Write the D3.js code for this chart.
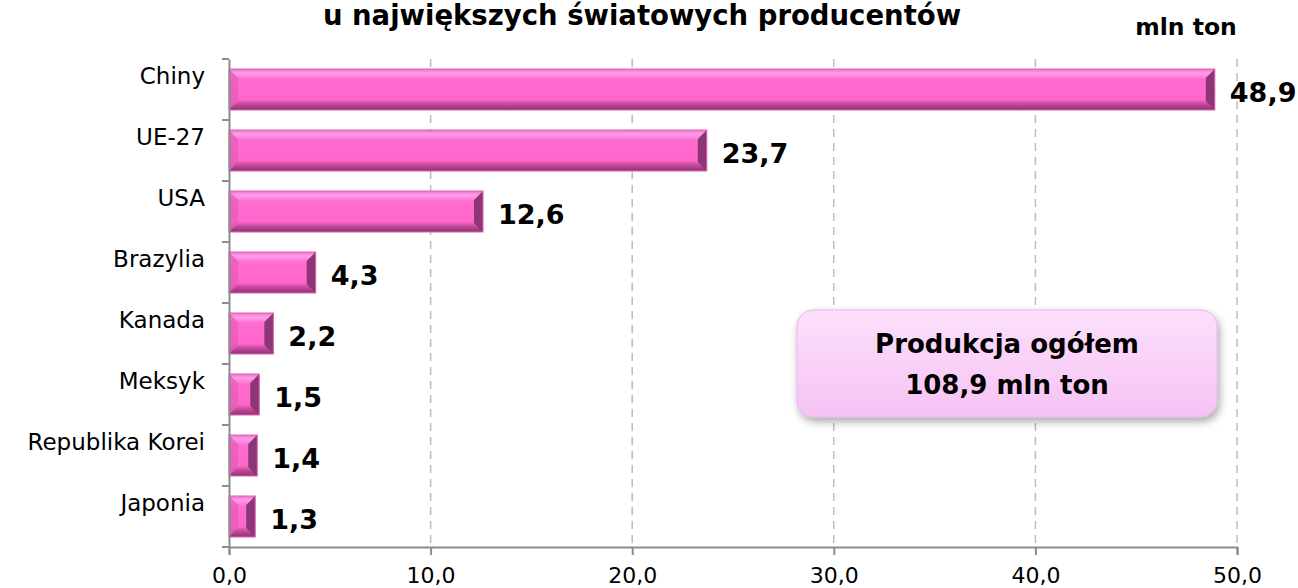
<!DOCTYPE html>
<html>
<head>
<meta charset="utf-8">
<script src="https://cdn.jsdelivr.net/npm/d3@7"></script>
<style>
  body { margin: 0; background: #fff; }
  svg { font-family: "DejaVu Sans", Verdana, sans-serif; }
</style>
</head>
<body>
<svg id="chart"></svg>
<script>
const categories = ["Chiny", "UE-27", "USA", "Brazylia", "Kanada", "Meksyk", "Republika Korei", "Japonia"];
const values = [48.9, 23.7, 12.6, 4.3, 2.2, 1.5, 1.4, 1.3];
const xTicks = [0, 10, 20, 30, 40, 50];
const titleText = "u największych światowych producentów";
const unitText = "mln ton";
const totalLines = ["Produkcja ogółem", "108,9 mln ton"];

const width = 1298;
const height = 588;
const fmt = (v) => v.toFixed(1).replace(".", ",");

const svg = d3.select("#chart").attr("width", width).attr("height", height);

const x = d3.scaleLinear().domain([0, 50]).range([229, 1237]);
const y = d3.scaleBand().domain(categories).range([59, 547]);
const barOffset = 10;
const barH = 41;
const bevel = 9;

const defs = svg.append("defs");
const grad = defs.append("linearGradient").attr("id", "barGrad")
  .attr("x1", 0).attr("y1", 0).attr("x2", 0).attr("y2", 1);
grad.append("stop").attr("offset", "0%").attr("stop-color", "#f070c8");
grad.append("stop").attr("offset", "10%").attr("stop-color", "#ffa0ec");
grad.append("stop").attr("offset", "25%").attr("stop-color", "#ff6cd0");
grad.append("stop").attr("offset", "75%").attr("stop-color", "#ff66cc");
grad.append("stop").attr("offset", "85%").attr("stop-color", "#c84a9e");
grad.append("stop").attr("offset", "100%").attr("stop-color", "#8a3470");

const boxGrad = defs.append("linearGradient").attr("id", "boxGrad")
  .attr("x1", 0).attr("y1", 0).attr("x2", 0).attr("y2", 1);
boxGrad.append("stop").attr("offset", "0%").attr("stop-color", "#fbe0fb");
boxGrad.append("stop").attr("offset", "100%").attr("stop-color", "#f6c2f4");

const shadow = defs.append("filter").attr("id", "shadow")
  .attr("x", "-10%").attr("y", "-10%").attr("width", "130%").attr("height", "140%");
shadow.append("feDropShadow").attr("dx", 2).attr("dy", 4).attr("stdDeviation", 4)
  .attr("flood-color", "#000").attr("flood-opacity", 0.35);

// gridlines
svg.append("g").selectAll("line")
  .data(xTicks.slice(1))
  .join("line")
  .attr("x1", (d) => x(d)).attr("x2", (d) => x(d))
  .attr("y1", 59).attr("y2", 547)
  .attr("stroke", "#bdbdbd").attr("stroke-width", 1.5)
  .attr("stroke-dasharray", "8,6");

// bars
const bars = svg.append("g").selectAll("g")
  .data(categories)
  .join("g")
  .attr("transform", (d) => `translate(${x(0)},${y(d) + barOffset})`);

bars.append("rect")
  .attr("width", (d, i) => x(values[i]) - x(0))
  .attr("height", barH)
  .attr("fill", "url(#barGrad)");

// left bevel (light)
bars.append("path")
  .attr("d", `M0,0 L${bevel},${bevel} L${bevel},${barH - bevel} L0,${barH} Z`)
  .attr("fill", "#e85cbc").attr("opacity", 0.8);

// right bevel (dark)
bars.append("path")
  .attr("d", (d, i) => {
    const w = x(values[i]) - x(0);
    return `M${w},0 L${w - bevel},${bevel} L${w - bevel},${barH - bevel} L${w},${barH} Z`;
  })
  .attr("fill", "#8c3676");

bars.append("rect")
  .attr("width", (d, i) => x(values[i]) - x(0))
  .attr("height", barH)
  .attr("fill", "none").attr("stroke", "#e060b8").attr("stroke-width", 1);

// value labels
svg.append("g").selectAll("text")
  .data(categories)
  .join("text")
  .attr("x", (d, i) => x(values[i]) + 15)
  .attr("y", (d) => y(d) + barOffset + barH / 2 + 3)
  .attr("dominant-baseline", "central")
  .attr("font-size", 27).attr("font-weight", "bold")
  .text((d, i) => fmt(values[i]));

// axes
const yAxis = d3.axisLeft(y).tickSize(0).tickFormat("");
svg.append("g").attr("transform", `translate(${x(0)},0)`).call(yAxis)
  .call((g) => g.select(".domain").attr("stroke", "#8c8c8c").attr("stroke-width", 2));

svg.append("g").selectAll("line")
  .data(categories.concat([null]))
  .join("line")
  .attr("x1", x(0) - 7).attr("x2", x(0))
  .attr("y1", (d) => d === null ? 547 : y(d))
  .attr("y2", (d) => d === null ? 547 : y(d))
  .attr("stroke", "#8c8c8c").attr("stroke-width", 2);

const xAxis = d3.axisBottom(x).tickValues(xTicks).tickSize(8).tickFormat(fmt);
svg.append("g").attr("transform", "translate(0,547)").call(xAxis)
  .call((g) => g.select(".domain").attr("stroke", "#8c8c8c").attr("stroke-width", 2))
  .call((g) => g.selectAll(".tick line").attr("stroke", "#8c8c8c").attr("stroke-width", 2))
  .call((g) => g.selectAll(".tick text")
    .attr("font-family", "DejaVu Sans, Verdana, sans-serif")
    .attr("font-size", 22).attr("fill", "#000").attr("dy", "0.35em").attr("y", 28));

// category labels
svg.append("g").selectAll("text")
  .data(categories)
  .join("text")
  .attr("x", 205)
  .attr("y", (d) => y(d) + y.bandwidth() / 2 - 14)
  .attr("text-anchor", "end")
  .attr("dominant-baseline", "central")
  .attr("font-size", 23)
  .text((d) => d);

// title and unit
svg.append("text")
  .attr("x", 642).attr("y", 25)
  .attr("text-anchor", "middle")
  .attr("font-size", 27.5).attr("font-weight", "bold")
  .text(titleText);

svg.append("text")
  .attr("x", 1186).attr("y", 27)
  .attr("text-anchor", "middle")
  .attr("dominant-baseline", "central")
  .attr("font-size", 23.5).attr("font-weight", "bold")
  .text(unitText);

// total box
const box = svg.append("g");
box.append("rect")
  .attr("x", 797).attr("y", 310).attr("width", 420).attr("height", 107)
  .attr("rx", 16).attr("ry", 16)
  .attr("fill", "url(#boxGrad)").attr("stroke", "#f0b0ee")
  .attr("filter", "url(#shadow)");
box.selectAll("text")
  .data(totalLines)
  .join("text")
  .attr("x", 1007)
  .attr("y", (d, i) => 344 + i * 41)
  .attr("text-anchor", "middle")
  .attr("dominant-baseline", "central")
  .attr("font-size", 26).attr("font-weight", "bold")
  .text((d) => d);
</script>
</body>
</html>
